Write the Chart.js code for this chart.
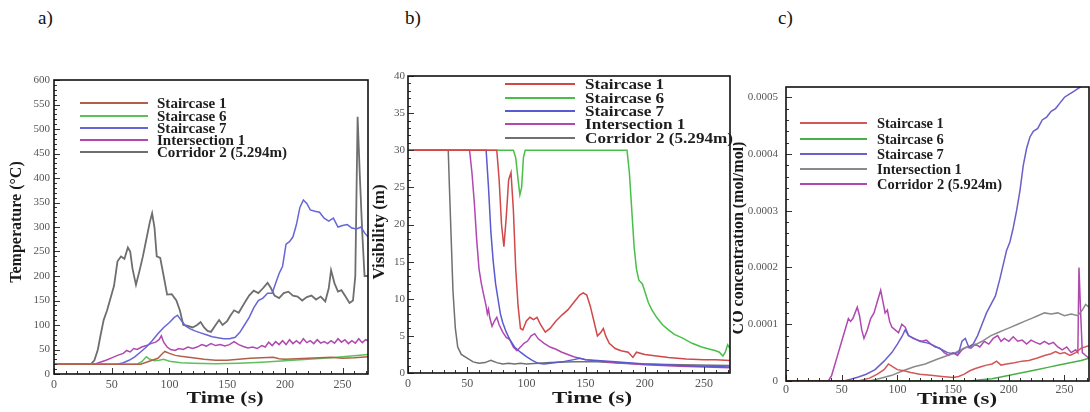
<!DOCTYPE html>
<html><head><meta charset="utf-8">
<script src="https://cdn.jsdelivr.net/npm/chart.js@4.4.1/dist/chart.umd.min.js"></script>
<style>
html,body{margin:0;padding:0;background:#fff;width:1090px;height:412px;overflow:hidden;position:relative;}
canvas{position:absolute;top:0;}
.lbl{position:absolute;top:6px;font-family:"Liberation Serif","Times New Roman",serif;font-size:19px;color:#111;line-height:24px;}
</style></head><body>
<div class="lbl" style="left:38px">a)</div>
<div class="lbl" style="left:405px">b)</div>
<div class="lbl" style="left:778px">c)</div>
<canvas id="ca" width="372" height="412" style="left:0px"></canvas>
<canvas id="cb" width="361" height="412" style="left:372px"></canvas>
<canvas id="cc" width="357" height="412" style="left:733px"></canvas>
<script>
// ---------- labels ----------
const seriesNames = ['Staircase 1', 'Staircase 6', 'Staircase 7', 'Intersection 1', 'Corridor 2 (5.294m)'];
const seriesNamesC = ['Staircase 1', 'Staircase 6', 'Staircase 7', 'Intersection 1', 'Corridor 2 (5.924m)'];
const xTitle = 'Time (s)';
const yTitleA = 'Temperature (\u00B0C)';
const yTitleB = 'Visibility (m)';
const yTitleC = 'CO concentration (mol/mol)';

// ---------- panel a: temperature [time s, °C] ----------
const tempStair1 = [[0,20],[75,20],[80,24],[85,28],[90,32],[94,42],[96,46],[100,42],[105,38],[110,36],[120,33],[130,30],[140,28],[150,28],[160,30],[170,32],[180,33],[190,34],[195,31],[200,30],[210,31],[220,32],[230,33],[240,34],[250,32],[260,33],[272,35]];
const tempStair6 = [[0,20],[72,20],[76,25],[80,35],[83,30],[87,27],[91,28],[95,30],[100,26],[110,23],[120,22],[140,21],[160,22],[180,24],[200,27],[220,30],[240,33],[255,36],[272,40]];
const tempStair7 = [[0,20],[55,20],[60,23],[65,28],[70,35],[75,45],[80,55],[85,68],[90,82],[95,95],[100,105],[104,115],[107,120],[110,110],[114,98],[118,92],[122,88],[127,84],[132,80],[137,76],[142,74],[147,72],[152,72],[157,75],[161,85],[165,100],[169,115],[173,135],[177,150],[181,155],[185,165],[189,165],[192,185],[195,205],[198,220],[201,265],[204,270],[207,280],[210,305],[213,340],[216,355],[219,348],[222,335],[226,332],[230,330],[234,318],[238,312],[242,318],[246,300],[250,303],[254,305],[258,298],[262,296],[266,300],[269,288],[272,280]];
const tempInter1 = [[0,20],[35,20],[40,24],[45,28],[50,33],[55,38],[60,42],[63,48],[66,45],[69,52],[72,50],[76,55],[80,58],[84,62],[88,65],[91,70],[93,78],[95,65],[98,55],[101,50],[105,48],[108,52],[112,50],[116,55],[120,52],[124,55],[128,60],[132,57],[136,62],[140,58],[144,60],[148,57],[152,60],[156,66],[160,60],[164,56],[168,53],[172,55],[176,52],[180,58],[183,55],[186,65],[189,58],[192,66],[195,60],[198,68],[201,60],[204,70],[207,62],[210,68],[213,62],[216,72],[219,64],[222,68],[225,62],[228,70],[231,63],[234,66],[237,62],[240,68],[243,63],[246,72],[249,65],[252,70],[255,62],[258,68],[261,63],[264,72],[267,64],[270,70],[272,68]];
const tempCorr2 = [[0,20],[32,20],[35,28],[38,50],[40,75],[43,110],[46,130],[49,155],[52,180],[55,230],[58,240],[61,235],[64,258],[66,250],[68,215],[71,182],[74,210],[77,240],[80,275],[83,310],[85,328],[87,300],[89,240],[92,237],[95,200],[98,162],[102,163],[106,150],[109,130],[112,100],[116,98],[120,95],[124,100],[127,106],[130,95],[133,88],[136,86],[140,100],[143,110],[146,100],[150,108],[153,120],[156,130],[160,125],[165,145],[169,160],[173,170],[177,165],[181,175],[185,186],[188,175],[191,160],[195,155],[199,165],[203,168],[207,160],[211,158],[215,150],[219,157],[223,160],[227,152],[231,158],[235,148],[238,175],[240,212],[243,185],[246,168],[249,171],[252,160],[256,145],[259,150],[261,200],[263,525],[265,400],[267,290],[269,200],[272,200]];

// ---------- panel b: visibility [time s, m] ----------
const visStair1 = [[0,30],[75,30],[77,26],[79,20],[81,17],[83,21],[85,26],[87,27],[89,22],[91,14],[93,9],[95,6],[97,5.8],[100,7],[103,7.5],[106,7.2],[109,7.5],[112,6.5],[116,5.5],[120,6],[125,7],[130,7.8],[135,8.5],[140,9.5],[145,10.5],[148,10.8],[151,10.5],[154,9],[157,7],[160,5],[163,5.5],[165,6],[167,5],[170,4],[175,3.3],[180,3],[186,2.8],[190,2.1],[193,2.8],[200,2.5],[210,2.3],[220,2.1],[235,1.9],[250,1.8],[260,1.8],[272,1.7]];
const visStair6 = [[0,30],[89,30],[91,29],[93,26],[94.5,24],[96,25],[97.5,29],[99,30],[185,30],[187,27],[189,22],[191,17],[193,14],[195,12.5],[198,12],[200,11],[203,9.5],[206,8.5],[210,7.5],[215,6.5],[220,5.8],[225,5.2],[232,4.7],[240,4],[248,3.5],[255,3.2],[260,3],[263,2.8],[266,2.3],[268,2.8],[270,3.8],[272,3.3]];
const visStair7 = [[0,30],[66,30],[68,25],[70,19],[72,15],[74,12],[76,10],[78,8],[80,6.8],[83,5.5],[86,4.5],[90,3.5],[95,2.8],[100,2.2],[105,1.7],[110,1.3],[115,1.2],[120,1.3],[130,1.5],[140,1.8],[145,2],[150,1.8],[160,1.7],[175,1.5],[200,1.2],[230,1],[272,0.8]];
const visInter1 = [[0,30],[52,30],[54,27],[56,23],[58,18],[60,14],[62,12],[64,10.5],[66,9],[67,8],[68,8.6],[69,7.5],[71,6.3],[73,7],[75,7.5],[77,6.5],[80,5.5],[83,4.8],[86,4.5],[89,3.5],[92,3],[95,3.5],[98,4],[101,4.3],[104,5],[107,5.3],[110,4.6],[115,4],[120,3.5],[125,3.2],[130,2.8],[135,2.5],[140,2.2],[150,1.8],[160,1.6],[175,1.4],[200,1.1],[230,0.9],[272,0.7]];
const visCorr2 = [[0,30],[34,30],[35,25],[36.5,18],[38,11],[40,6],[42,3.5],[45,2.5],[50,2],[55,1.5],[60,1.3],[65,1.4],[70,1.7],[75,1.4],[80,1.2],[85,1.3],[90,1.2],[95,1.3],[100,1.2],[110,1.3],[120,1.4],[140,1.5],[160,1.5],[180,1.3],[200,1.2],[230,1.1],[272,1.0]];

// ---------- panel c: CO concentration [time s, mol/mol] ----------
const coStair1 = [[0,0],[65,0],[75,0.000005],[82,0.000012],[88,0.00002],[92,0.00003],[96,0.000025],[100,0.00002],[106,0.000018],[112,0.000015],[120,0.000012],[130,0.00001],[140,0.000008],[150,0.000006],[155,0.000008],[160,0.000012],[165,0.000018],[170,0.000022],[175,0.000025],[180,0.000028],[185,0.00003],[189,0.000035],[193,0.000028],[198,0.00003],[205,0.000032],[212,0.000035],[218,0.000036],[225,0.00004],[232,0.000045],[238,0.000048],[242,0.000052],[246,0.000048],[250,0.00005],[255,0.000045],[260,0.00005],[265,0.000058],[272,0.000062]];
const coStair6 = [[0,0],[165,0],[175,0.000002],[185,0.000004],[195,0.000008],[205,0.000012],[215,0.000016],[225,0.00002],[235,0.000024],[245,0.000028],[255,0.000032],[265,0.000036],[272,0.00004]];
const coStair7 = [[0,0],[52,0],[58,0.000003],[65,0.000007],[72,0.000012],[80,0.00002],[88,0.000035],[95,0.00005],[100,0.000065],[104,0.000078],[107,0.00009],[110,0.00008],[115,0.000075],[120,0.00007],[125,0.000068],[130,0.000065],[135,0.00006],[140,0.000055],[145,0.00005],[150,0.000048],[155,0.00005],[158,0.00007],[161,0.000075],[164,0.00006],[168,0.000065],[172,0.00008],[176,0.0001],[180,0.00012],[184,0.000135],[188,0.00015],[192,0.00018],[195,0.000205],[198,0.00023],[201,0.000245],[204,0.00027],[207,0.0003],[210,0.000335],[213,0.00038],[216,0.00041],[219,0.00043],[222,0.00044],[226,0.000445],[230,0.00046],[234,0.000465],[238,0.000475],[242,0.00048],[246,0.00049],[250,0.0005],[254,0.000505],[258,0.00051],[262,0.000515],[266,0.00052],[272,0.000525]];
const coInter1 = [[0,0],[75,0],[85,0.000005],[95,0.00001],[105,0.000018],[115,0.000025],[125,0.00003],[135,0.000038],[145,0.000045],[152,0.00005],[160,0.000058],[168,0.000062],[176,0.00007],[184,0.00008],[190,0.000085],[196,0.00009],[202,0.000095],[208,0.0001],[214,0.000105],[220,0.00011],[226,0.000115],[232,0.00012],[238,0.000118],[244,0.00012],[250,0.000115],[256,0.000118],[262,0.000115],[266,0.000125],[269,0.000135],[272,0.00013]];
const coCorr2 = [[0,0],[38,0],[41,0.00001],[44,0.00003],[47,0.00005],[50,0.00007],[53,0.00009],[56,0.00011],[58,0.000105],[60,0.00011],[62,0.00012],[64,0.00013],[66,0.000115],[68,0.00009],[70,0.000075],[73,0.00009],[76,0.00011],[79,0.00012],[82,0.00014],[85,0.00016],[87,0.00014],[89,0.00012],[91,0.000125],[93,0.000105],[95,0.000095],[98,0.00009],[101,0.000085],[104,0.0001],[107,0.000095],[110,0.00008],[114,0.000075],[118,0.000072],[122,0.00007],[126,0.000072],[130,0.000065],[134,0.00006],[138,0.000058],[142,0.00005],[146,0.000045],[150,0.00005],[154,0.000045],[158,0.000055],[162,0.00006],[166,0.000058],[170,0.000065],[174,0.00006],[178,0.00007],[182,0.000065],[186,0.000075],[190,0.00008],[193,0.00007],[196,0.000075],[200,0.00007],[204,0.000078],[208,0.00007],[212,0.000072],[216,0.000065],[220,0.000072],[224,0.000068],[228,0.000065],[232,0.00007],[236,0.000065],[240,0.000068],[244,0.00006],[248,0.000055],[252,0.00006],[256,0.00005],[260,0.000055],[262,0.00005],[263,0.0002],[264.5,0.00012],[266,0.00005],[269,0.000045],[272,0.00004]];

// ---------- rendering ----------
const SERIF = '"Liberation Serif","Times New Roman",serif';
const pts = arr => arr.map(p => ({x: p[0], y: p[1]}));

// draw text horizontally stretched so that `ref` text would span refW pixels
function stretchedText(ctx, text, x, y, size, sx, align) {
  ctx.save();
  ctx.font = 'bold ' + size + 'px ' + SERIF;
  ctx.translate(x, y);
  ctx.scale(sx, 1);
  ctx.textAlign = align;
  ctx.textBaseline = 'middle';
  ctx.fillText(text, 0, 0);
  ctx.restore();
}

function makePanel(cfg) {
  const el = document.getElementById(cfg.id);
  const offX = cfg.canvasLeft;
  const deco = {
    id: 'deco',
    afterDraw(chart) {
      const {ctx, chartArea: a, scales: {x, y}} = chart;
      ctx.save();
      // inward ticks
      ctx.strokeStyle = '#333'; ctx.lineWidth = 1;
      ctx.beginPath();
      const nx = Math.floor(x.max / cfg.xMinor + 1e-6);
      for (let i = 0; i <= nx; i++) {
        const v = i * cfg.xMinor;
        const px = Math.round(x.getPixelForValue(v)) + 0.5;
        const major = (i % cfg.xPer) === 0;
        ctx.moveTo(px, a.bottom); ctx.lineTo(px, a.bottom - (major ? 6 : 3));
      }
      const ny = Math.floor(y.max / cfg.yMinor + 1e-6);
      for (let i = 0; i <= ny; i++) {
        const v = i * cfg.yMinor;
        const py = Math.round(y.getPixelForValue(v)) + 0.5;
        const major = (i % cfg.yPer) === 0;
        ctx.moveTo(a.left, py); ctx.lineTo(a.left + (major ? 6 : 3), py);
      }
      ctx.stroke();
      // frame
      ctx.strokeStyle = '#111'; ctx.lineWidth = 1.6;
      ctx.strokeRect(a.left, a.top, a.right - a.left, a.bottom - a.top);
      // axis titles
      ctx.fillStyle = '#1a1a1a';
      ctx.font = 'bold ' + cfg.xTitleSize + 'px ' + SERIF;
      const xw = ctx.measureText(xTitle).width;
      stretchedText(ctx, xTitle, cfg.xTitlePos[0] - offX, cfg.xTitlePos[1], cfg.xTitleSize, cfg.xTitleW / xw, 'center');
      ctx.save();
      ctx.translate(cfg.yTitlePos[0] - offX, cfg.yTitlePos[1]);
      ctx.rotate(-Math.PI / 2);
      ctx.textAlign = 'center'; ctx.textBaseline = 'middle';
      ctx.font = 'bold ' + cfg.yTitleSize + 'px ' + SERIF;
      ctx.fillText(cfg.yTitle, 0, 0);
      ctx.restore();
      // legend
      ctx.font = 'bold ' + cfg.legSize + 'px ' + SERIF;
      const lw = ctx.measureText(cfg.names[4]).width;
      const sx = cfg.legW / lw;
      chart.data.datasets.forEach((ds, i) => {
        const ly = cfg.legRows[i];
        ctx.strokeStyle = ds.borderColor; ctx.lineWidth = 2;
        ctx.beginPath();
        ctx.moveTo(cfg.legLine[0] - offX, ly); ctx.lineTo(cfg.legLine[1] - offX, ly);
        ctx.stroke();
        ctx.fillStyle = '#1e1e1e';
        stretchedText(ctx, ds.label, cfg.legText - offX, ly + 1, cfg.legSize, sx, 'left');
      });
      ctx.restore();
    }
  };
  const datasets = cfg.series.map((s, i) => ({
    label: cfg.names[i], data: pts(s), borderColor: cfg.colors[i],
    borderWidth: i === cfg.thick ? 1.8 : 1.5, pointRadius: 0, tension: 0, fill: false
  }));
  const W = el.width, H = el.height;
  new Chart(el, {
    type: 'line',
    data: {datasets},
    options: {
      responsive: false, animation: false, devicePixelRatio: 1,
      layout: {autoPadding: false, padding: {top: cfg.area.top, right: W - (cfg.area.right - offX), left: 0, bottom: 0}},
      plugins: {legend: {display: false}, tooltip: {enabled: false}, title: {display: false}},
      scales: {
        x: {
          type: 'linear', min: 0, max: cfg.xMax,
          grid: {display: false, drawTicks: false}, border: {display: false},
          ticks: {stepSize: 50, includeBounds: false, maxRotation: 0, autoSkip: false,
                  padding: cfg.xPad, color: '#555', font: {family: SERIF, size: 12}},
          afterFit: s => { s.height = H - cfg.area.bottom; }
        },
        y: {
          type: 'linear', min: 0, max: cfg.yMax,
          grid: {display: false, drawTicks: false}, border: {display: false},
          ticks: {stepSize: cfg.yStep, includeBounds: false, autoSkip: false,
                  padding: cfg.yPad, color: '#555', font: {family: SERIF, size: 11},
                  callback: cfg.yFmt},
          afterFit: s => { s.width = cfg.area.left - offX; }
        }
      }
    },
    plugins: [deco]
  });
}

makePanel({
  id: 'ca', canvasLeft: 0,
  area: {left: 54, top: 80, right: 368, bottom: 374},
  series: [tempStair1, tempStair6, tempStair7, tempInter1, tempCorr2], names: seriesNames,
  colors: ['#b0604a', '#5cc05c', '#6666d6', '#b048b0', '#6e6e6e'], thick: 4,
  xMax: 272, yMax: 600, yStep: 50, xMinor: 10, xPer: 5, yMinor: 10, yPer: 5,
  xPad: 4, yPad: 4, yFmt: v => String(Math.round(v)),
  xTitleSize: 17, xTitleW: 77, xTitlePos: [225, 399], yTitle: yTitleA, yTitleSize: 16, yTitlePos: [17, 222],
  legSize: 14, legW: 130, legLine: [80, 148], legText: 157, legRows: [103, 116, 128, 140, 152]
});
makePanel({
  id: 'cb', canvasLeft: 372,
  area: {left: 408, top: 76, right: 730, bottom: 373},
  series: [visStair1, visStair6, visStair7, visInter1, visCorr2], names: seriesNames,
  colors: ['#d04848', '#48c048', '#5a5ad0', '#b048b0', '#707070'], thick: -1,
  xMax: 272, yMax: 40, yStep: 5, xMinor: 10, xPer: 5, yMinor: 1, yPer: 5,
  xPad: 4, yPad: 3, yFmt: v => String(Math.round(v)),
  xTitleSize: 17, xTitleW: 80, xTitlePos: [592, 399], yTitle: yTitleB, yTitleSize: 17, yTitlePos: [380, 232],
  legSize: 15.5, legW: 148, legLine: [505, 575], legText: 585, legRows: [84, 98, 111, 124, 138]
});
makePanel({
  id: 'cc', canvasLeft: 733,
  area: {left: 786, top: 87, right: 1089, bottom: 381},
  series: [coStair1, coStair6, coStair7, coInter1, coCorr2], names: seriesNamesC,
  colors: ['#d05858', '#48b048', '#6a60c8', '#8a8a8a', '#b048b0'], thick: -1,
  xMax: 272, yMax: 0.000518, yStep: 0.0001, xMinor: 10, xPer: 5, yMinor: 0.00002, yPer: 5,
  xPad: 2, yPad: 8, yFmt: v => (Math.abs(v) < 1e-9 ? '0' : v.toFixed(4)),
  xTitleSize: 17, xTitleW: 80, xTitlePos: [957, 400], yTitle: yTitleC, yTitleSize: 16, yTitlePos: [739, 238],
  legSize: 14.5, legW: 125, legLine: [800, 867], legText: 877, legRows: [123, 139, 154, 169, 184]
});
</script>
</body></html>
